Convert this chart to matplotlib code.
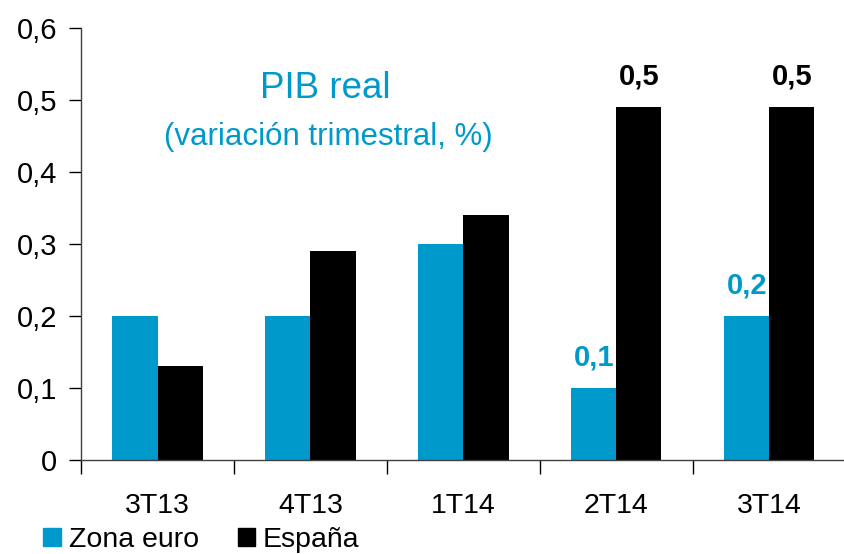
import matplotlib
matplotlib.use("Agg")
import matplotlib.pyplot as plt
from matplotlib.ticker import FuncFormatter, FixedLocator
from matplotlib.patches import Patch
import numpy as np

plt.rcParams['font.family'] = ['Liberation Sans', 'DejaVu Sans']

categories = ["3T13", "4T13", "1T14", "2T14", "3T14"]
zona_euro = [0.2, 0.2, 0.3, 0.1, 0.2]
espana = [0.13, 0.29, 0.34, 0.49, 0.49]
label_euro = [None, None, None, "0,1", "0,2"]
label_espana = [None, None, None, "0,5", "0,5"]
series_names = ["Zona euro", "España"]
title = "PIB real"
subtitle = "(variación trimestral, %)"

blue = "#0099CC"
black = "#000000"

fig = plt.figure(figsize=(8.45, 5.54), dpi=100)
ax = fig.add_axes([0.0959, 0.1697, 0.905, 0.7798])

x = np.arange(len(categories))
w = 0.295
ax.bar(x - w / 2, zona_euro, width=w, color=blue)
ax.bar(x + w / 2, espana, width=w, color=black)

for i, lab in enumerate(label_euro):
    if lab:
        ax.annotate(lab, (x[i] - w / 2, zona_euro[i]), xytext=(0, 16),
                    textcoords="offset points", ha="center", va="baseline",
                    fontsize=21, fontweight="bold", color=blue)
for i, lab in enumerate(label_espana):
    if lab:
        ax.annotate(lab, (x[i] + w / 2, espana[i]), xytext=(0, 16),
                    textcoords="offset points", ha="center", va="baseline",
                    fontsize=21, fontweight="bold", color=black)

ax.set_xlim(-0.5, len(categories) - 0.5)
ax.set_ylim(0, 0.6)
ax.set_yticks(np.arange(0, 0.61, 0.1))
ax.yaxis.set_major_formatter(FuncFormatter(
    lambda v, p: "0" if abs(v) < 1e-9 else f"{v:.1f}".replace(".", ",")))
ax.tick_params(axis="y", labelsize=21, length=9, width=1, direction="out", pad=8)

ax.set_xticks(x)
ax.set_xticklabels(categories)
ax.tick_params(axis="x", which="major", length=0, labelsize=20.5, pad=24)
ax.xaxis.set_minor_locator(FixedLocator(np.arange(-0.5, len(categories), 1.0)))
ax.tick_params(axis="x", which="minor", length=10, width=1, direction="out")

for s in ["top", "right"]:
    ax.spines[s].set_visible(False)
for s in ["left", "bottom"]:
    ax.spines[s].set_color("#404040")
    ax.spines[s].set_linewidth(1)

fig.text(325 / 845, 1 - 88 / 554, title, color=blue, fontsize=26.5, ha="center", va="center")
fig.text(328 / 845, 1 - 137 / 554, subtitle, color=blue, fontsize=22.5, ha="center", va="center")

handles = [Patch(color=blue), Patch(color=black)]
fig.legend(handles, series_names, loc="lower left", bbox_to_anchor=(0.038, -0.018),
           ncol=2, frameon=False, fontsize=20.5, handlelength=0.6, handleheight=0.6,
           handletextpad=0.28, columnspacing=1.37, borderaxespad=0)

fig.savefig("out.png", dpi=100)
